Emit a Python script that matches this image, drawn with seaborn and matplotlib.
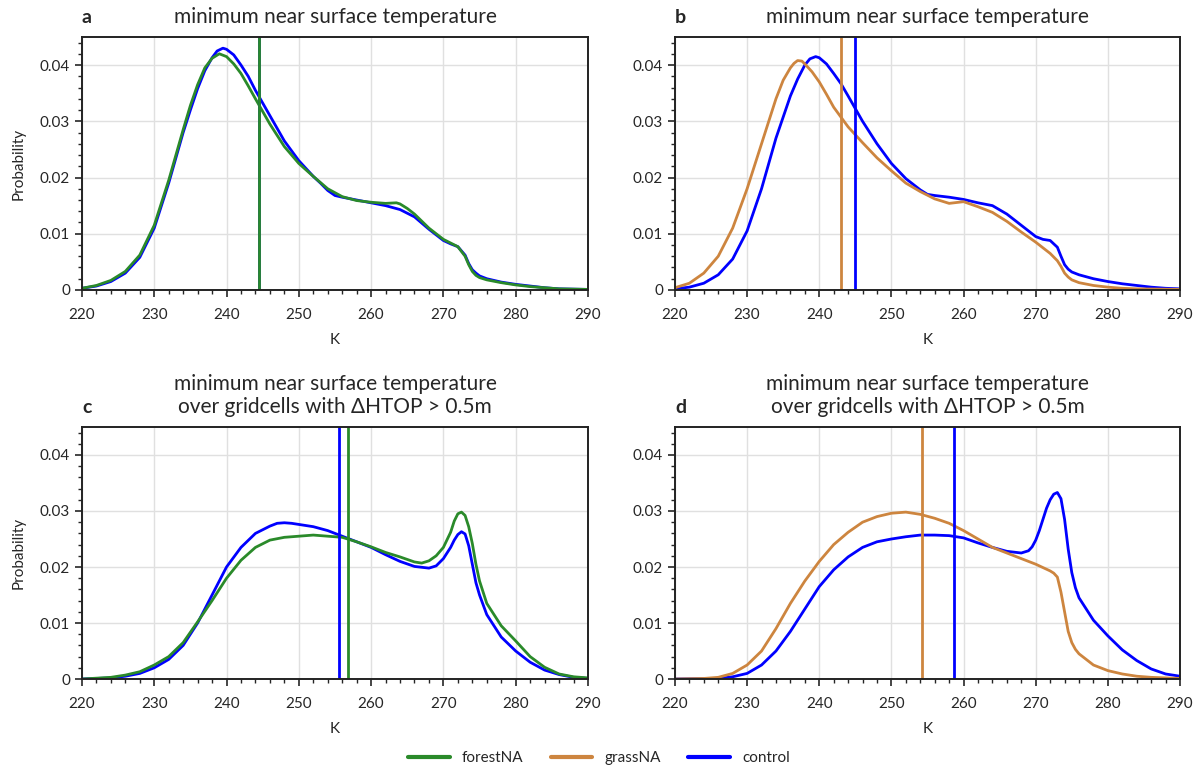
# PDF of minimum near-surface temperature, four panels (a-d)
import numpy as np
import pandas as pd
import seaborn as sns
import matplotlib.pyplot as plt
from matplotlib.ticker import MultipleLocator, FuncFormatter
from matplotlib.lines import Line2D

# panel a : control vs forestNA
a_ctl_x = [220, 222, 224, 226, 228, 230, 232, 234, 235, 236, 237, 238, 238.7, 239.5, 240, 241, 242, 243, 244, 246,
           248, 250, 252, 253, 254, 255, 256, 258, 260, 262, 264, 266, 268, 270, 271, 272, 273, 273.5, 274, 274.5,
           275, 276, 278, 280, 282, 284, 286, 290]
a_ctl_y = [0.0003, 0.0007, 0.0015, 0.003, 0.0058, 0.011, 0.019, 0.028, 0.032, 0.0358, 0.039, 0.0413, 0.0425, 0.043,
           0.0428, 0.0418, 0.040, 0.038, 0.0355, 0.031, 0.0265, 0.023, 0.0202, 0.019, 0.0177, 0.0168, 0.0165,
           0.016, 0.0155, 0.015, 0.0143, 0.013, 0.0108, 0.0088, 0.0082, 0.0077, 0.0062, 0.0047, 0.0036, 0.003,
           0.0025, 0.002, 0.0014, 0.001, 0.0007, 0.0004, 0.0002, 0.0001]
a_exp_x = [220, 222, 224, 226, 228, 230, 232, 234, 235, 236, 237, 238, 239, 240, 241, 242, 243, 244, 246, 248, 250,
           252, 254, 256, 258, 260, 262, 263.5, 264, 265, 266, 268, 270, 272, 273, 273.5, 274, 274.5, 275, 276,
           278, 280, 282, 284, 286, 290]
a_exp_y = [0.0003, 0.0008, 0.0017, 0.0033, 0.0062, 0.0115, 0.0195, 0.0285, 0.0328, 0.0365, 0.0395, 0.0412, 0.042,
           0.0415, 0.0402, 0.0385, 0.0363, 0.034, 0.0295, 0.0255, 0.0225, 0.0202, 0.018, 0.0166, 0.0159, 0.0156,
           0.0154, 0.0155, 0.0153, 0.0145, 0.0135, 0.011, 0.009, 0.0077, 0.006, 0.0045, 0.0033, 0.0026, 0.0022,
           0.0018, 0.0013, 0.0009, 0.0006, 0.0004, 0.0002, 0.0001]

# panel b : control vs grassNA
b_ctl_x = [220, 222, 224, 226, 228, 230, 232, 234, 236, 237, 238, 238.7, 239.5, 240, 241, 242, 243, 244, 246, 248,
           250, 252, 254, 255, 256, 258, 260, 262, 264, 266, 268, 270, 271, 272, 273, 273.5, 274, 274.5, 275, 276,
           278, 280, 282, 284, 286, 288, 290]
b_ctl_y = [0.0002, 0.0005, 0.0012, 0.0027, 0.0055, 0.0105, 0.018, 0.027, 0.0345, 0.0375, 0.0400, 0.0411, 0.0415,
           0.0413, 0.0402, 0.0385, 0.0367, 0.0345, 0.030, 0.026, 0.0225, 0.0198, 0.0178, 0.017, 0.0168, 0.0165,
           0.0161, 0.0155, 0.015, 0.0135, 0.0115, 0.0095, 0.009, 0.0088, 0.0076, 0.006, 0.0045, 0.0037, 0.0032,
           0.0027, 0.002, 0.0015, 0.0011, 0.0008, 0.0005, 0.0003, 0.0002]
b_exp_x = [220, 222, 224, 226, 228, 230, 232, 234, 235, 236, 236.5, 237, 237.6, 238, 239, 240, 241, 242, 244, 246,
           248, 250, 252, 254, 256, 258, 260, 262, 264, 266, 268, 270, 272, 273, 273.5, 274, 274.5, 275, 276, 278,
           280, 282, 284, 290]
b_exp_y = [0.0004, 0.0012, 0.003, 0.006, 0.011, 0.018, 0.026, 0.034, 0.0373, 0.0395, 0.0403, 0.0408, 0.0407,
           0.0402, 0.0388, 0.037, 0.0348, 0.0325, 0.029, 0.0262, 0.0235, 0.0212, 0.019, 0.0175, 0.0162, 0.0154,
           0.0157, 0.0148, 0.0138, 0.0122, 0.0103, 0.0085, 0.0065, 0.0052, 0.0042, 0.003, 0.0023, 0.0018, 0.0013,
           0.0008, 0.0005, 0.0003, 0.0002, 0.0001]

# panel c : control vs forestNA, cells with dHTOP > 0.5m
c_ctl_x = [220, 224, 226, 228, 230, 232, 234, 236, 238, 240, 242, 244, 246, 247, 248, 249, 250, 252, 254, 256, 258,
           260, 262, 264, 266, 268, 269, 270, 271, 271.5, 272, 272.5, 273, 273.5, 274, 274.5, 275, 276, 278, 280,
           282, 284, 286, 288, 290]
c_ctl_y = [0.0, 0.0002, 0.0005, 0.001, 0.002, 0.0035, 0.006, 0.010, 0.015, 0.020, 0.0235, 0.026, 0.0273, 0.0278,
           0.0279, 0.0278, 0.0276, 0.0272, 0.0265, 0.0255, 0.0245, 0.0235, 0.0222, 0.021, 0.0201, 0.0198, 0.0202,
           0.0215, 0.0235, 0.0248, 0.0258, 0.0263, 0.0259, 0.0238, 0.0205, 0.0172, 0.015, 0.0115, 0.0075, 0.005,
           0.003, 0.0016, 0.0008, 0.0003, 0.0001]
c_exp_x = [220, 224, 226, 228, 230, 232, 234, 236, 238, 240, 242, 244, 246, 248, 250, 252, 254, 256, 258, 260, 262,
           264, 266, 267, 268, 269, 270, 271, 271.5, 272, 272.5, 273, 273.5, 274, 274.5, 275, 276, 278, 280, 282,
           284, 286, 288, 290]
c_exp_y = [0.0, 0.0003, 0.0007, 0.0013, 0.0025, 0.004, 0.0065, 0.0102, 0.014, 0.018, 0.0212, 0.0235, 0.0248,
           0.0253, 0.0255, 0.0257, 0.0255, 0.0253, 0.0245, 0.0236, 0.0226, 0.0218, 0.0209, 0.0207, 0.0211, 0.022,
           0.0235, 0.0262, 0.0282, 0.0295, 0.0298, 0.0292, 0.0272, 0.0242, 0.0205, 0.0175, 0.0135, 0.0095, 0.0068,
           0.004, 0.0021, 0.0009, 0.0004, 0.0002]

# panel d : control vs grassNA, cells with dHTOP > 0.5m
d_ctl_x = [220, 226, 228, 230, 232, 234, 236, 238, 240, 242, 244, 246, 248, 250, 252, 254, 256, 258, 260, 262, 264,
           266, 268, 269, 269.5, 270, 270.5, 271, 271.5, 272, 272.5, 273, 273.5, 274, 274.5, 275, 275.5, 276, 278,
           280, 282, 284, 286, 288, 290]
d_ctl_y = [0.0, 0.0001, 0.0004, 0.001, 0.0025, 0.005, 0.0085, 0.0125, 0.0165, 0.0195, 0.0218, 0.0235, 0.0245,
           0.025, 0.0254, 0.0257, 0.0257, 0.0256, 0.0252, 0.0243, 0.0235, 0.0228, 0.0225, 0.0229, 0.0236, 0.0248,
           0.0265, 0.0285, 0.0305, 0.032, 0.033, 0.0333, 0.0322, 0.0285, 0.0232, 0.019, 0.0163, 0.0145, 0.0105,
           0.0077, 0.0052, 0.0033, 0.0018, 0.0009, 0.0005]
d_exp_x = [220, 224, 226, 228, 230, 232, 234, 236, 238, 240, 242, 244, 246, 248, 250, 252, 254, 256, 258, 260, 262,
           264, 266, 268, 270, 272, 272.5, 273, 273.5, 274, 274.5, 275, 275.5, 276, 278, 280, 282, 284, 286, 290]
d_exp_y = [0.0, 0.0001, 0.0003, 0.001, 0.0025, 0.005, 0.009, 0.0135, 0.0175, 0.021, 0.024, 0.0262, 0.028, 0.029,
           0.0296, 0.0298, 0.0294, 0.0287, 0.0278, 0.0265, 0.025, 0.0235, 0.0225, 0.0215, 0.0205, 0.0193, 0.0189,
           0.0182, 0.0155, 0.012, 0.0085, 0.0065, 0.0053, 0.0045, 0.0025, 0.0015, 0.0009, 0.0005, 0.0003, 0.0001]

# mean lines (control, experiment)
means = {'a': (244.5, 244.5), 'b': (245.0, 243.0), 'c': (255.5, 256.8), 'd': (258.7, 254.3)}

colors = {'forestNA': '#2a8a2a', 'grassNA': '#cd853f', 'control': '#0000ff'}

panels = [
    ('a', 'forestNA', a_ctl_x, a_ctl_y, a_exp_x, a_exp_y, 'minimum near surface temperature'),
    ('b', 'grassNA', b_ctl_x, b_ctl_y, b_exp_x, b_exp_y, 'minimum near surface temperature'),
    ('c', 'forestNA', c_ctl_x, c_ctl_y, c_exp_x, c_exp_y,
     'minimum near surface temperature\nover gridcells with ΔHTOP > 0.5m'),
    ('d', 'grassNA', d_ctl_x, d_ctl_y, d_exp_x, d_exp_y,
     'minimum near surface temperature\nover gridcells with ΔHTOP > 0.5m'),
]

sns.set_style('ticks')
plt.rcParams['font.family'] = ['Lato', 'DejaVu Sans']

fig = plt.figure(figsize=(11.98, 7.71), dpi=100)
rects = {'a': [0.0684, 0.6239, 0.4224, 0.3282],
         'b': [0.5634, 0.6239, 0.4216, 0.3282],
         'c': [0.0684, 0.1193, 0.4224, 0.3269],
         'd': [0.5634, 0.1193, 0.4216, 0.3269]}

for key, exp, cx, cy, ex, ey, title in panels:
    ax = fig.add_axes(rects[key])
    df = pd.concat([pd.DataFrame({'K': cx, 'p': cy, 'run': 'control'}),
                    pd.DataFrame({'K': ex, 'p': ey, 'run': exp})])
    sns.lineplot(data=df, x='K', y='p', hue='run', palette=colors, linewidth=2,
                 ax=ax, legend=False, estimator=None, sort=True, solid_joinstyle='round')
    ax.axvline(means[key][0], color=colors['control'], lw=2)
    ax.axvline(means[key][1], color=colors[exp], lw=2)

    ax.set_xlim(220, 290)
    ax.set_ylim(0, 0.045)
    ax.xaxis.set_major_locator(MultipleLocator(10))
    ax.xaxis.set_minor_locator(MultipleLocator(2))
    ax.yaxis.set_major_locator(MultipleLocator(0.01))
    ax.yaxis.set_minor_locator(MultipleLocator(0.002))
    ax.yaxis.set_major_formatter(FuncFormatter(lambda v, p: '0' if abs(v) < 1e-9 else f'{v:.2f}'))
    ax.grid(True, which='major', color='#e0e0e0', lw=1)
    ax.set_axisbelow(True)
    ax.tick_params(which='major', length=5, width=1.2, labelsize=11)
    ax.tick_params(axis='x', which='major', pad=8)
    ax.tick_params(which='minor', length=3, width=1)
    for s in ax.spines.values():
        s.set_linewidth(1.4)
        s.set_color('#222222')
    ax.set_xlabel('K', fontsize=11, labelpad=8)
    ax.set_ylabel('Probability' if key in 'ac' else '', fontsize=11, labelpad=10)
    ax.set_title(title, fontsize=15, pad=10)
    ax.set_title(key, loc='left', fontsize=14, fontweight='bold', pad=10)

handles = [Line2D([], [], color=colors[k], lw=3) for k in ['forestNA', 'grassNA', 'control']]
fig.legend(handles, ['forestNA', 'grassNA', 'control'], loc='center', bbox_to_anchor=(0.5, 0.017),
           ncol=3, frameon=False, fontsize=11, handlelength=2.7, columnspacing=1.8)

fig.savefig('out.png', dpi=100)
